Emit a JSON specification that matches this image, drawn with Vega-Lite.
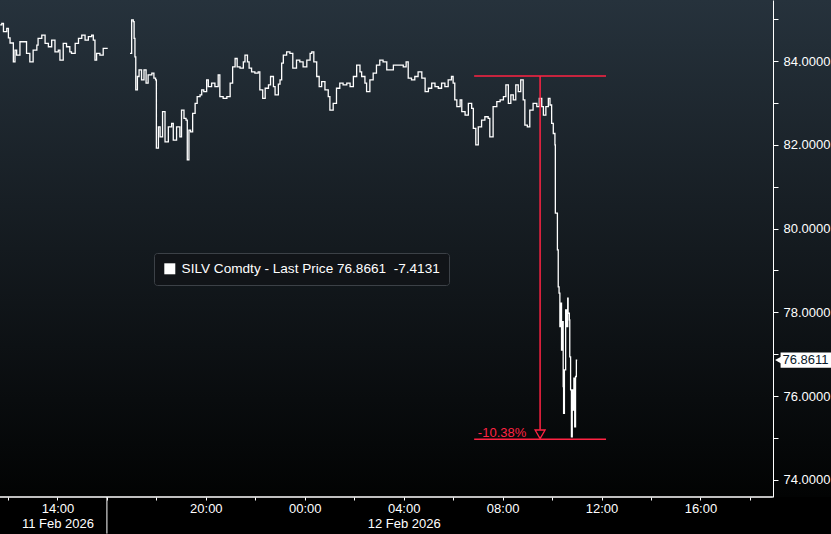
{
  "$schema": "https://vega.github.io/schema/vega-lite/v6.json",
  "width": 831,
  "height": 497,
  "padding": {"left": 0, "top": 0, "right": 0, "bottom": 37},
  "autosize": {"type": "none"},
  "background": "#000000",
  "config": {
    "view": {"stroke": null, "fill": {"gradient": "linear", "x1": 0, "y1": 0, "x2": 0, "y2": 1, "stops": [{"offset": 0, "color": "#26323c"}, {"offset": 0.5, "color": "#141a1f"}, {"offset": 1, "color": "#020303"}]}},
    "axis": {"grid": false, "domainColor": "#ffffff", "tickColor": "#ffffff", "labelColor": "#ffffff", "labelFont": "Liberation Sans", "labelFontSize": 13}
  },
  "datasets": {
    "price": [
      {"t":"2026-02-11T11:41Z","p":84.86,"s":"a"},{"t":"2026-02-11T11:45Z","p":84.90,"s":"a"},{"t":"2026-02-11T11:49Z","p":84.70,"s":"a"},{"t":"2026-02-11T11:57Z","p":84.78,"s":"a"},
      {"t":"2026-02-11T12:01Z","p":84.55,"s":"a"},{"t":"2026-02-11T12:05Z","p":84.43,"s":"a"},{"t":"2026-02-11T12:13Z","p":83.98,"s":"a"},{"t":"2026-02-11T12:17Z","p":84.26,"s":"a"},
      {"t":"2026-02-11T12:21Z","p":84.14,"s":"a"},{"t":"2026-02-11T12:29Z","p":84.46,"s":"a"},{"t":"2026-02-11T12:37Z","p":84.46,"s":"a"},{"t":"2026-02-11T12:45Z","p":84.18,"s":"a"},
      {"t":"2026-02-11T12:53Z","p":83.98,"s":"a"},{"t":"2026-02-11T13:01Z","p":84.26,"s":"a"},{"t":"2026-02-11T13:10Z","p":84.38,"s":"a"},{"t":"2026-02-11T13:13Z","p":84.54,"s":"a"},
      {"t":"2026-02-11T13:22Z","p":84.62,"s":"a"},{"t":"2026-02-11T13:30Z","p":84.42,"s":"a"},{"t":"2026-02-11T13:38Z","p":84.34,"s":"a"},{"t":"2026-02-11T13:46Z","p":84.50,"s":"a"},
      {"t":"2026-02-11T13:54Z","p":84.22,"s":"a"},{"t":"2026-02-11T14:02Z","p":84.26,"s":"a"},{"t":"2026-02-11T14:06Z","p":84.02,"s":"a"},{"t":"2026-02-11T14:14Z","p":84.42,"s":"a"},
      {"t":"2026-02-11T14:22Z","p":84.34,"s":"a"},{"t":"2026-02-11T14:30Z","p":84.22,"s":"a"},{"t":"2026-02-11T14:34Z","p":84.18,"s":"a"},{"t":"2026-02-11T14:43Z","p":84.42,"s":"a"},
      {"t":"2026-02-11T14:51Z","p":84.54,"s":"a"},{"t":"2026-02-11T14:59Z","p":84.62,"s":"a"},{"t":"2026-02-11T15:07Z","p":84.50,"s":"a"},{"t":"2026-02-11T15:15Z","p":84.58,"s":"a"},
      {"t":"2026-02-11T15:23Z","p":84.62,"s":"a"},{"t":"2026-02-11T15:27Z","p":84.50,"s":"a"},{"t":"2026-02-11T15:31Z","p":84.02,"s":"a"},{"t":"2026-02-11T15:35Z","p":84.18,"s":"a"},
      {"t":"2026-02-11T15:43Z","p":84.14,"s":"a"},{"t":"2026-02-11T15:51Z","p":84.30,"s":"a"},{"t":"2026-02-11T15:58Z","p":84.30,"s":"a"},{"t":"2026-02-11T16:02Z","p":84.30,"s":"a"},
      {"t":"2026-02-11T16:56Z","p":84.18,"s":"b"},{"t":"2026-02-11T17:00Z","p":84.98,"s":"b"},{"t":"2026-02-11T17:04Z","p":84.94,"s":"b"},{"t":"2026-02-11T17:06Z","p":84.54,"s":"b"},
      {"t":"2026-02-11T17:08Z","p":84.10,"s":"b"},{"t":"2026-02-11T17:10Z","p":83.31,"s":"b"},{"t":"2026-02-11T17:14Z","p":83.63,"s":"b"},{"t":"2026-02-11T17:18Z","p":83.79,"s":"b"},
      {"t":"2026-02-11T17:24Z","p":83.55,"s":"b"},{"t":"2026-02-11T17:30Z","p":83.79,"s":"b"},{"t":"2026-02-11T17:35Z","p":83.47,"s":"b"},{"t":"2026-02-11T17:40Z","p":83.67,"s":"b"},
      {"t":"2026-02-11T17:49Z","p":83.71,"s":"b"},{"t":"2026-02-11T17:54Z","p":83.59,"s":"b"},{"t":"2026-02-11T17:58Z","p":83.55,"s":"b"},{"t":"2026-02-11T18:00Z","p":81.92,"s":"b"},
      {"t":"2026-02-11T18:05Z","p":82.43,"s":"b"},{"t":"2026-02-11T18:09Z","p":82.19,"s":"b"},{"t":"2026-02-11T18:15Z","p":82.79,"s":"b"},{"t":"2026-02-11T18:21Z","p":82.07,"s":"b"},
      {"t":"2026-02-11T18:29Z","p":82.43,"s":"b"},{"t":"2026-02-11T18:37Z","p":82.51,"s":"b"},{"t":"2026-02-11T18:41Z","p":82.11,"s":"b"},{"t":"2026-02-11T18:49Z","p":82.43,"s":"b"},
      {"t":"2026-02-11T18:57Z","p":82.19,"s":"b"},{"t":"2026-02-11T19:01Z","p":82.83,"s":"b"},{"t":"2026-02-11T19:07Z","p":82.63,"s":"b"},{"t":"2026-02-11T19:12Z","p":82.59,"s":"b"},
      {"t":"2026-02-11T19:15Z","p":81.64,"s":"b"},{"t":"2026-02-11T19:19Z","p":82.35,"s":"b"},{"t":"2026-02-11T19:23Z","p":82.31,"s":"b"},{"t":"2026-02-11T19:28Z","p":82.75,"s":"b"},
      {"t":"2026-02-11T19:34Z","p":82.99,"s":"b"},{"t":"2026-02-11T19:39Z","p":83.15,"s":"b"},{"t":"2026-02-11T19:46Z","p":83.19,"s":"b"},{"t":"2026-02-11T19:50Z","p":83.31,"s":"b"},
      {"t":"2026-02-11T19:55Z","p":83.27,"s":"b"},{"t":"2026-02-11T20:02Z","p":83.55,"s":"b"},{"t":"2026-02-11T20:06Z","p":83.39,"s":"b"},{"t":"2026-02-11T20:14Z","p":83.47,"s":"b"},
      {"t":"2026-02-11T20:22Z","p":83.39,"s":"b"},{"t":"2026-02-11T20:30Z","p":83.67,"s":"b"},{"t":"2026-02-11T20:34Z","p":83.15,"s":"b"},{"t":"2026-02-11T20:42Z","p":83.11,"s":"b"},
      {"t":"2026-02-11T20:51Z","p":83.15,"s":"b"},{"t":"2026-02-11T20:59Z","p":83.47,"s":"b"},{"t":"2026-02-11T21:05Z","p":83.86,"s":"b"},{"t":"2026-02-11T21:11Z","p":84.06,"s":"b"},
      {"t":"2026-02-11T21:16Z","p":83.86,"s":"b"},{"t":"2026-02-11T21:23Z","p":83.83,"s":"b"},{"t":"2026-02-11T21:31Z","p":83.98,"s":"b"},{"t":"2026-02-11T21:35Z","p":84.14,"s":"b"},
      {"t":"2026-02-11T21:41Z","p":83.98,"s":"b"},{"t":"2026-02-11T21:45Z","p":83.83,"s":"b"},{"t":"2026-02-11T21:51Z","p":83.74,"s":"b"},{"t":"2026-02-11T21:59Z","p":83.71,"s":"b"},
      {"t":"2026-02-11T22:07Z","p":83.74,"s":"b"},{"t":"2026-02-11T22:11Z","p":83.31,"s":"b"},{"t":"2026-02-11T22:18Z","p":83.11,"s":"b"},{"t":"2026-02-11T22:24Z","p":83.35,"s":"b"},
      {"t":"2026-02-11T22:32Z","p":83.43,"s":"b"},{"t":"2026-02-11T22:37Z","p":83.63,"s":"b"},{"t":"2026-02-11T22:44Z","p":83.39,"s":"b"},{"t":"2026-02-11T22:48Z","p":83.19,"s":"b"},
      {"t":"2026-02-11T22:56Z","p":83.45,"s":"b"},{"t":"2026-02-11T23:00Z","p":83.55,"s":"b"},{"t":"2026-02-11T23:04Z","p":83.95,"s":"b"},{"t":"2026-02-11T23:08Z","p":84.14,"s":"b"},
      {"t":"2026-02-11T23:16Z","p":84.22,"s":"b"},{"t":"2026-02-11T23:24Z","p":84.18,"s":"b"},{"t":"2026-02-11T23:31Z","p":83.83,"s":"b"},{"t":"2026-02-11T23:40Z","p":84.02,"s":"b"},
      {"t":"2026-02-11T23:48Z","p":83.98,"s":"b"},{"t":"2026-02-11T23:56Z","p":83.86,"s":"b"},{"t":"2026-02-12T00:05Z","p":84.02,"s":"b"},{"t":"2026-02-12T00:13Z","p":84.18,"s":"b"},
      {"t":"2026-02-12T00:17Z","p":84.22,"s":"b"},{"t":"2026-02-12T00:22Z","p":83.98,"s":"b"},{"t":"2026-02-12T00:29Z","p":83.63,"s":"b"},{"t":"2026-02-12T00:35Z","p":83.39,"s":"b"},
      {"t":"2026-02-12T00:41Z","p":83.51,"s":"b"},{"t":"2026-02-12T00:49Z","p":83.31,"s":"b"},{"t":"2026-02-12T00:57Z","p":83.15,"s":"b"},{"t":"2026-02-12T01:01Z","p":82.83,"s":"b"},
      {"t":"2026-02-12T01:09Z","p":82.99,"s":"b"},{"t":"2026-02-12T01:17Z","p":83.35,"s":"b"},{"t":"2026-02-12T01:25Z","p":83.47,"s":"b"},{"t":"2026-02-12T01:33Z","p":83.43,"s":"b"},
      {"t":"2026-02-12T01:42Z","p":83.47,"s":"b"},{"t":"2026-02-12T01:50Z","p":83.39,"s":"b"},{"t":"2026-02-12T01:58Z","p":83.63,"s":"b"},{"t":"2026-02-12T02:06Z","p":83.90,"s":"b"},
      {"t":"2026-02-12T02:14Z","p":83.74,"s":"b"},{"t":"2026-02-12T02:18Z","p":83.63,"s":"b"},{"t":"2026-02-12T02:26Z","p":83.47,"s":"b"},{"t":"2026-02-12T02:30Z","p":83.27,"s":"b"},
      {"t":"2026-02-12T02:38Z","p":83.55,"s":"b"},{"t":"2026-02-12T02:46Z","p":83.71,"s":"b"},{"t":"2026-02-12T02:54Z","p":83.90,"s":"b"},{"t":"2026-02-12T03:02Z","p":84.02,"s":"b"},
      {"t":"2026-02-12T03:10Z","p":83.98,"s":"b"},{"t":"2026-02-12T03:19Z","p":83.79,"s":"b"},{"t":"2026-02-12T03:27Z","p":83.79,"s":"b"},{"t":"2026-02-12T03:35Z","p":83.90,"s":"b"},
      {"t":"2026-02-12T03:43Z","p":83.90,"s":"b"},{"t":"2026-02-12T03:51Z","p":83.90,"s":"b"},{"t":"2026-02-12T03:59Z","p":83.86,"s":"b"},{"t":"2026-02-12T04:06Z","p":83.98,"s":"b"},
      {"t":"2026-02-12T04:11Z","p":83.59,"s":"b"},{"t":"2026-02-12T04:19Z","p":83.55,"s":"b"},{"t":"2026-02-12T04:27Z","p":83.63,"s":"b"},{"t":"2026-02-12T04:35Z","p":83.74,"s":"b"},
      {"t":"2026-02-12T04:44Z","p":83.59,"s":"b"},{"t":"2026-02-12T04:52Z","p":83.27,"s":"b"},{"t":"2026-02-12T05:00Z","p":83.35,"s":"b"},{"t":"2026-02-12T05:08Z","p":83.47,"s":"b"},
      {"t":"2026-02-12T05:16Z","p":83.39,"s":"b"},{"t":"2026-02-12T05:24Z","p":83.35,"s":"b"},{"t":"2026-02-12T05:32Z","p":83.47,"s":"b"},{"t":"2026-02-12T05:40Z","p":83.39,"s":"b"},
      {"t":"2026-02-12T05:48Z","p":83.55,"s":"b"},{"t":"2026-02-12T05:56Z","p":83.63,"s":"b"},{"t":"2026-02-12T06:00Z","p":83.47,"s":"b"},{"t":"2026-02-12T06:04Z","p":83.07,"s":"b"},
      {"t":"2026-02-12T06:09Z","p":82.91,"s":"b"},{"t":"2026-02-12T06:17Z","p":83.07,"s":"b"},{"t":"2026-02-12T06:21Z","p":82.79,"s":"b"},{"t":"2026-02-12T06:29Z","p":82.71,"s":"b"},
      {"t":"2026-02-12T06:37Z","p":82.99,"s":"b"},{"t":"2026-02-12T06:45Z","p":82.87,"s":"b"},{"t":"2026-02-12T06:49Z","p":82.39,"s":"b"},{"t":"2026-02-12T06:55Z","p":82.00,"s":"b"},
      {"t":"2026-02-12T07:01Z","p":82.43,"s":"b"},{"t":"2026-02-12T07:09Z","p":82.59,"s":"b"},{"t":"2026-02-12T07:17Z","p":82.67,"s":"b"},{"t":"2026-02-12T07:25Z","p":82.63,"s":"b"},
      {"t":"2026-02-12T07:29Z","p":82.19,"s":"b"},{"t":"2026-02-12T07:37Z","p":82.91,"s":"b"},{"t":"2026-02-12T07:46Z","p":83.03,"s":"b"},{"t":"2026-02-12T07:54Z","p":83.07,"s":"b"},
      {"t":"2026-02-12T08:02Z","p":83.15,"s":"b"},{"t":"2026-02-12T08:08Z","p":83.43,"s":"b"},{"t":"2026-02-12T08:14Z","p":82.99,"s":"b"},{"t":"2026-02-12T08:20Z","p":83.19,"s":"b"},
      {"t":"2026-02-12T08:26Z","p":83.07,"s":"b"},{"t":"2026-02-12T08:32Z","p":83.43,"s":"b"},{"t":"2026-02-12T08:38Z","p":83.27,"s":"b"},{"t":"2026-02-12T08:44Z","p":83.55,"s":"b"},
      {"t":"2026-02-12T08:50Z","p":83.07,"s":"b"},{"t":"2026-02-12T08:54Z","p":82.47,"s":"b"},{"t":"2026-02-12T09:00Z","p":82.43,"s":"b"},{"t":"2026-02-12T09:06Z","p":82.83,"s":"b"},
      {"t":"2026-02-12T09:14Z","p":82.99,"s":"b"},{"t":"2026-02-12T09:23Z","p":82.91,"s":"b"},{"t":"2026-02-12T09:29Z","p":83.11,"s":"b"},{"t":"2026-02-12T09:35Z","p":82.91,"s":"b"},
      {"t":"2026-02-12T09:39Z","p":82.71,"s":"b"},{"t":"2026-02-12T09:45Z","p":82.91,"s":"b"},{"t":"2026-02-12T09:51Z","p":83.11,"s":"b"},{"t":"2026-02-12T09:55Z","p":82.95,"s":"b"},
      {"t":"2026-02-12T09:59Z","p":82.51,"s":"b"},{"t":"2026-02-12T10:03Z","p":82.27,"s":"b"},{"t":"2026-02-12T10:07Z","p":82.00,"s":"b"},{"t":"2026-02-12T10:08Z","p":80.37,"s":"b"},
      {"t":"2026-02-12T10:13Z","p":79.49,"s":"b"},{"t":"2026-02-12T10:15Z","p":78.61,"s":"b"},{"t":"2026-02-12T10:17Z","p":78.46,"s":"b"},{"t":"2026-02-12T10:19Z","p":77.66,"s":"b"},
      {"t":"2026-02-12T10:21Z","p":78.22,"s":"b"},{"t":"2026-02-12T10:23Z","p":77.10,"s":"b"},{"t":"2026-02-12T10:25Z","p":77.78,"s":"b"},{"t":"2026-02-12T10:27Z","p":76.23,"s":"b"},
      {"t":"2026-02-12T10:28Z","p":75.59,"s":"b"},{"t":"2026-02-12T10:30Z","p":76.63,"s":"b"},{"t":"2026-02-12T10:33Z","p":78.06,"s":"b"},{"t":"2026-02-12T10:35Z","p":77.66,"s":"b"},
      {"t":"2026-02-12T10:38Z","p":78.34,"s":"b"},{"t":"2026-02-12T10:39Z","p":77.98,"s":"b"},{"t":"2026-02-12T10:42Z","p":77.82,"s":"b"},{"t":"2026-02-12T10:43Z","p":76.94,"s":"b"},
      {"t":"2026-02-12T10:45Z","p":76.15,"s":"b"},{"t":"2026-02-12T10:47Z","p":75.03,"s":"b"},{"t":"2026-02-12T10:49Z","p":76.15,"s":"b"},{"t":"2026-02-12T10:51Z","p":75.67,"s":"b"},
      {"t":"2026-02-12T10:53Z","p":76.43,"s":"b"},{"t":"2026-02-12T10:55Z","p":75.27,"s":"b"},{"t":"2026-02-12T10:57Z","p":76.47,"s":"b"},{"t":"2026-02-12T10:59Z","p":76.86,"s":"b"},
      {"t":"2026-02-12T11:01Z","p":76.86,"s":"b"}
    ]
  },
  "layer": [
    {
      "data": {"name": "price"},
      "mark": {"type": "line", "interpolate": "step-after", "strokeWidth": 1.3, "strokeCap": "butt"},
      "encoding": {
        "x": {"field": "t", "type": "temporal", "title": null,
          "scale": {"type": "utc", "domain": [{"year": 2026, "month": 2, "date": 11, "hours": 11, "minutes": 40, "seconds": 36, "utc": true}, {"year": 2026, "month": 2, "date": 12, "hours": 21, "minutes": 16, "seconds": 48, "utc": true}]},
          "axis": {"domain": false, "tickSize": 3, "labelPadding": 2, "labelLineHeight": 15, "labelBaseline": "top", "labelFlush": false, "labelOverlap": false,
            "values": [
              {"year": 2026, "month": 2, "date": 11, "hours": 12, "utc": true}, {"year": 2026, "month": 2, "date": 11, "hours": 14, "utc": true},
              {"year": 2026, "month": 2, "date": 11, "hours": 16, "utc": true}, {"year": 2026, "month": 2, "date": 11, "hours": 18, "utc": true},
              {"year": 2026, "month": 2, "date": 11, "hours": 20, "utc": true}, {"year": 2026, "month": 2, "date": 11, "hours": 22, "utc": true},
              {"year": 2026, "month": 2, "date": 12, "hours": 0, "utc": true}, {"year": 2026, "month": 2, "date": 12, "hours": 2, "utc": true},
              {"year": 2026, "month": 2, "date": 12, "hours": 4, "utc": true}, {"year": 2026, "month": 2, "date": 12, "hours": 6, "utc": true},
              {"year": 2026, "month": 2, "date": 12, "hours": 8, "utc": true}, {"year": 2026, "month": 2, "date": 12, "hours": 10, "utc": true},
              {"year": 2026, "month": 2, "date": 12, "hours": 12, "utc": true}, {"year": 2026, "month": 2, "date": 12, "hours": 14, "utc": true},
              {"year": 2026, "month": 2, "date": 12, "hours": 16, "utc": true}, {"year": 2026, "month": 2, "date": 12, "hours": 18, "utc": true}
            ],
            "labelExpr": "utchours(datum.value) == 14 && utcdate(datum.value) == 11 ? ['14:00', '11 Feb 2026'] : (utchours(datum.value) == 4 ? ['04:00', '12 Feb 2026'] : ((utcdate(datum.value) == 12 && utchours(datum.value) % 4 == 0) || (utcdate(datum.value) == 11 && utchours(datum.value) == 20) ? utcFormat(datum.value, '%H:%M') : ''))"
          }
        },
        "y": {"field": "p", "type": "quantitative", "title": null,
          "scale": {"domain": [73.594, 85.456], "nice": false, "zero": false},
          "axis": {"orient": "right", "offset": -58, "tickSize": 5, "labelPadding": 5, "values": [74, 75, 76, 77, 78, 79, 80, 81, 82, 83, 84, 85],
            "labelExpr": "datum.value % 2 == 0 ? format(datum.value, '.4f') : ''", "labelFlush": false, "labelOverlap": false}
        },
        "detail": {"field": "s"},
        "color": {"datum": "SILV Comdty - Last Price 76.8661 \u00a0-7.4131", "type": "nominal",
          "scale": {"range": ["#ffffff"]},
          "legend": {"orient": "none", "legendX": 154, "legendY": 253, "title": null, "symbolType": "square", "symbolSize": 121,
            "fillColor": "#111418", "strokeColor": "#3c4147", "cornerRadius": 3, "padding": 9,
            "labelFont": "Liberation Sans", "labelFontSize": 13.6, "labelColor": "#ffffff", "labelLimit": 600, "labelOffset": 5,
            "encode": {"symbols": {"update": {"fill": {"value": "#ffffff"}, "stroke": {"value": "#ffffff"}, "strokeWidth": {"value": 0}}}}}
        }
      }
    },
    {
      "data": {"values": [{"t": "2026-02-11T11:40:36Z", "t2": "2026-02-12T18:55:48Z", "p": 73.594}]},
      "mark": {"type": "rule", "color": "#ffffff", "strokeWidth": 1.5},
      "encoding": {"x": {"field": "t", "type": "temporal", "title": null}, "x2": {"field": "t2"}, "y": {"field": "p", "type": "quantitative", "title": null}}
    },
    {
      "data": {"values": [{"t": "2026-02-11T16:00Z", "p": 73.594, "p2": 72.72}]},
      "mark": {"type": "rule", "color": "#ffffff", "strokeWidth": 1},
      "encoding": {"x": {"field": "t", "type": "temporal", "title": null}, "y": {"field": "p", "type": "quantitative", "title": null}, "y2": {"field": "p2"}}
    },
    {
      "data": {"values": [{"t": "2026-02-12T06:51Z", "t2": "2026-02-12T12:11Z", "p": 83.64}, {"t": "2026-02-12T06:51Z", "t2": "2026-02-12T12:11Z", "p": 74.97}]},
      "mark": {"type": "rule", "color": "#ff2343", "strokeWidth": 1.5},
      "encoding": {"x": {"field": "t", "type": "temporal", "title": null}, "x2": {"field": "t2"}, "y": {"field": "p", "type": "quantitative", "title": null}}
    },
    {
      "data": {"values": [{"t": "2026-02-12T09:31Z", "p": 83.64, "p2": 75.2}]},
      "mark": {"type": "rule", "color": "#ff2343", "strokeWidth": 1.5},
      "encoding": {"x": {"field": "t", "type": "temporal", "title": null}, "y": {"field": "p", "type": "quantitative", "title": null}, "y2": {"field": "p2"}}
    },
    {
      "data": {"values": [{"t": "2026-02-12T09:31Z", "p": 75.09}]},
      "mark": {"type": "point", "shape": "triangle-down", "filled": false, "stroke": "#ff2343", "strokeWidth": 1.3, "size": 100, "opacity": 1},
      "encoding": {"x": {"field": "t", "type": "temporal", "title": null}, "y": {"field": "p", "type": "quantitative", "title": null}}
    },
    {
      "data": {"values": [{"t": "2026-02-12T07:00Z", "p": 75.13, "label": "-10.38%"}]},
      "mark": {"type": "text", "align": "left", "baseline": "middle", "font": "Liberation Sans", "fontSize": 13, "color": "#ff2343"},
      "encoding": {"x": {"field": "t", "type": "temporal", "title": null}, "y": {"field": "p", "type": "quantitative", "title": null}, "text": {"field": "label"}}
    },
    {
      "data": {"values": [{"t": "2026-02-12T19:14:30Z", "t2": "2026-02-12T21:16:48Z", "p": 76.68, "p2": 77.04}]},
      "mark": {"type": "rect", "color": "#ffffff"},
      "encoding": {"x": {"field": "t", "type": "temporal", "title": null}, "x2": {"field": "t2"}, "y": {"field": "p", "type": "quantitative", "title": null}, "y2": {"field": "p2"}}
    },
    {
      "data": {"values": [{"t": "2026-02-12T19:10Z", "p": 76.8611}]},
      "mark": {"type": "point", "shape": "triangle-left", "filled": true, "color": "#ffffff", "size": 70, "opacity": 1},
      "encoding": {"x": {"field": "t", "type": "temporal", "title": null}, "y": {"field": "p", "type": "quantitative", "title": null}}
    },
    {
      "data": {"values": [{"t": "2026-02-12T20:15Z", "p": 76.8611, "label": "76.8611"}]},
      "mark": {"type": "text", "align": "center", "baseline": "middle", "font": "Liberation Sans", "fontSize": 13, "color": "#0b1a2a"},
      "encoding": {"x": {"field": "t", "type": "temporal", "title": null}, "y": {"field": "p", "type": "quantitative", "title": null}, "text": {"field": "label"}}
    }
  ]
}
